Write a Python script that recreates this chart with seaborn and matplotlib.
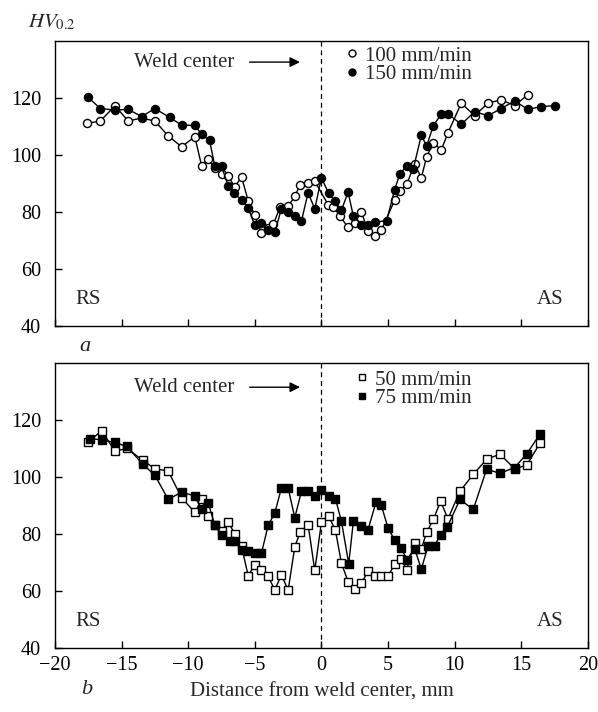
import matplotlib
matplotlib.use("Agg")
import matplotlib.pyplot as plt
import seaborn as sns
from matplotlib.lines import Line2D

# Microhardness profiles
# (a) top panel: 100 and 150 mm/min
x100 = [-17.6, -16.6, -15.5, -14.5, -13.5, -12.5, -11.5, -10.5, -9.5, -9.0, -8.5, -8.0, -7.5, -7.0,
        -6.5, -6.0, -5.5, -5.0, -4.5, -4.0, -3.6, -3.1, -2.5, -2.0, -1.6, -1.0, -0.5, 0.5, 0.9, 1.4,
        2.0, 2.5, 3.0, 3.5, 4.0, 4.5, 5.5, 5.9, 6.4, 7.0, 7.5, 7.9, 8.4, 9.0, 9.5, 10.5, 11.5, 12.5,
        13.5, 14.5, 15.5]
y100 = [111.1, 111.9, 117.3, 111.9, 113.0, 111.9, 106.7, 102.9, 106.4, 96.3, 98.5, 95.3, 93.5, 92.6,
        88.8, 92.3, 84.0, 78.9, 72.6, 74.4, 75.8, 81.8, 82.0, 85.5, 89.6, 90.2, 90.8, 82.6, 81.8, 78.5,
        74.6, 76.2, 80.0, 73.3, 71.5, 73.6, 84.2, 87.4, 89.7, 96.8, 92.0, 99.4, 104.3, 101.8, 107.8,
        118.2, 113.8, 118.2, 119.4, 117.3, 121.2]

x150 = [-17.5, -16.6, -15.5, -14.5, -13.5, -12.5, -11.4, -10.5, -9.5, -9.0, -8.4, -8.0, -7.5, -7.0,
        -6.6, -6.0, -5.5, -5.0, -4.5, -4.0, -3.5, -3.0, -2.5, -2.0, -1.5, -1.0, -0.5, 0.0, 0.55, 1.05,
        1.5, 2.0, 2.4, 3.0, 3.5, 4.0, 4.9, 5.5, 5.9, 6.4, 6.9, 7.5, 7.9, 8.4, 9.0, 9.5, 10.5, 11.5,
        12.5, 13.5, 14.5, 15.5, 16.5, 17.5]
y150 = [120.2, 116.3, 115.8, 116.0, 113.5, 116.3, 113.2, 110.5, 110.4, 107.3, 105.1, 96.1, 96.1, 89.2,
        86.8, 84.2, 81.4, 75.3, 76.1, 73.8, 72.9, 81.2, 80.0, 78.6, 76.8, 86.8, 81.1, 92.0, 86.5, 83.8,
        80.6, 87.0, 78.5, 75.6, 75.3, 76.4, 77.0, 87.9, 93.5, 96.1, 95.2, 106.9, 103.2, 110.3, 114.4,
        114.4, 110.8, 115.2, 113.8, 116.3, 119.0, 116.0, 117.0, 117.3]

# (b) bottom panel: 50 and 75 mm/min
x50 = [-17.5, -16.5, -15.5, -14.6, -13.4, -12.5, -11.5, -10.5, -9.5, -9.0, -8.5, -8.0, -7.5, -7.0,
       -6.5, -6.0, -5.5, -5.0, -4.5, -4.0, -3.5, -3.0, -2.5, -2.0, -1.6, -1.0, -0.5, 0.0, 0.55, 1.05,
       1.5, 2.0, 2.5, 3.0, 3.5, 4.0, 4.5, 5.0, 5.5, 6.0, 6.4, 7.0, 7.5, 7.9, 8.4, 8.95, 9.5, 10.4,
       11.4, 12.4, 13.4, 14.5, 15.4, 16.4]
y50 = [112.3, 116.2, 109.1, 110.0, 105.8, 102.9, 102.1, 92.7, 87.6, 92.1, 86.2, 83.0, 81.0, 84.1,
       80.1, 75.7, 65.4, 69.2, 67.5, 65.1, 60.4, 65.7, 60.2, 75.5, 80.6, 83.3, 67.2, 84.1, 86.2, 81.3,
       69.8, 63.3, 60.6, 62.8, 66.9, 65.4, 65.4, 65.1, 69.5, 71.2, 67.5, 76.9, 74.8, 80.6, 85.1, 91.5,
       85.3, 95.0, 100.9, 106.2, 108.0, 102.9, 104.1, 111.8]

x75 = [-17.4, -16.5, -15.5, -14.6, -13.4, -12.5, -11.5, -10.5, -9.5, -9.0, -8.5, -8.0, -7.5, -6.9,
       -6.5, -6.0, -5.5, -5.0, -4.5, -4.0, -3.5, -3.0, -2.5, -2.0, -1.5, -1.0, -0.5, 0.0, 0.55, 1.05,
       1.5, 2.05, 2.4, 3.0, 3.5, 4.1, 4.5, 5.0, 5.5, 6.0, 6.4, 7.0, 7.5, 8.0, 8.5, 8.95, 9.45, 10.4,
       11.4, 12.4, 13.4, 14.5, 15.4, 16.4]
y75 = [113.5, 113.0, 112.1, 110.7, 104.4, 100.6, 92.1, 94.7, 93.3, 88.6, 91.0, 83.0, 79.8, 77.4,
       77.4, 74.3, 73.9, 73.3, 73.3, 83.0, 87.4, 96.2, 96.2, 85.7, 95.0, 95.0, 93.3, 95.4, 93.3, 92.4,
       84.5, 69.6, 84.5, 82.7, 81.5, 91.2, 90.0, 82.1, 77.8, 75.1, 71.0, 74.8, 67.7, 75.7, 75.9, 79.8,
       82.5, 92.1, 88.6, 102.7, 101.3, 103.3, 108.0, 115.0]

xticks = [-20, -15, -10, -5, 0, 5, 10, 15, 20]
yticks = [40, 60, 80, 100, 120]

sns.set_style("ticks")
plt.rcParams['font.family'] = ['Liberation Serif', 'DejaVu Serif']
plt.rcParams['mathtext.fontset'] = 'stix'
fs = 15

fig = plt.figure(figsize=(5.98, 7.12), dpi=100)
ax_a = fig.add_axes([0.092, 0.5421, 0.891, 0.4003])
ax_b = fig.add_axes([0.092, 0.0899, 0.891, 0.4003])

panels = [
    (ax_a, x100, y100, x150, y150, 'o', ['100 mm/min', '150 mm/min'], (0.546, 0.982), 132.6),
    (ax_b, x50, y50, x75, y75, 's', ['50 mm/min', '75 mm/min'], (0.565, 0.975), 131.5),
]

for ax, xo, yo, xf, yf, mk, labels, leg_pos, weld_y in panels:
    sns.lineplot(x=xo, y=yo, ax=ax, color='black', lw=1.0, marker=mk, markersize=5.8,
                 markerfacecolor='white', markeredgecolor='black', markeredgewidth=1.0,
                 sort=False, estimator=None)
    sns.lineplot(x=xf, y=yf, ax=ax, color='black', lw=1.0, marker=mk, markersize=5.8,
                 markerfacecolor='black', markeredgecolor='black', markeredgewidth=1.0,
                 sort=False, estimator=None)
    ax.axvline(0, color='black', lw=0.9, ls=(0, (4, 3)), zorder=0)

    ax.set_xlim(-20, 20)
    ax.set_ylim(40, 140)
    ax.set_xticks(xticks)
    ax.set_yticks(yticks)
    ax.tick_params(direction='in', length=5, width=1, labelsize=14.5, colors='black')
    ax.tick_params(axis='x', pad=6)
    ax.tick_params(axis='y', pad=10)
    for s in ax.spines.values():
        s.set_visible(True)
        s.set_linewidth(1.0)
        s.set_color('black')
    ax.set_xlabel('')
    ax.set_ylabel('')

    ax.text(-10.3, weld_y, 'Weld center', fontsize=fs, ha='center', va='center')
    ax.annotate('', xy=(-1.4, weld_y), xytext=(-5.6, weld_y),
                arrowprops=dict(arrowstyle='-|>', color='black', lw=1.0, mutation_scale=15))
    ax.text(-17.5, 49.3, 'RS', fontsize=fs, ha='center', va='center')
    ax.text(17.2, 49.3, 'AS', fontsize=fs, ha='center', va='center')

    handles = [Line2D([], [], ls='none', marker=mk, markersize=5, color='black',
                      markerfacecolor='white', markeredgewidth=1.0),
               Line2D([], [], ls='none', marker=mk, markersize=5, color='black',
                      markerfacecolor='black', markeredgewidth=1.0)]
    ax.legend(handles, labels, loc='upper left', bbox_to_anchor=leg_pos,
              frameon=False, fontsize=fs, handlelength=0.6, handletextpad=0.33,
              labelspacing=-0.05, borderpad=0, borderaxespad=0)

ax_a.tick_params(labelbottom=False)

fig.text(0.047, 0.969, r'$\mathit{HV}_{\mathrm{0.2}}$', fontsize=fs, ha='left', va='center')
fig.text(0.142, 0.513, 'a', fontsize=fs + 1, style='italic', ha='center', va='center')
fig.text(0.145, 0.031, 'b', fontsize=fs + 1, style='italic', ha='center', va='center')
fig.text(0.538, 0.028, 'Distance from weld center, mm', fontsize=fs, ha='center', va='center')

fig.savefig('out.png', dpi=100, facecolor='white')
